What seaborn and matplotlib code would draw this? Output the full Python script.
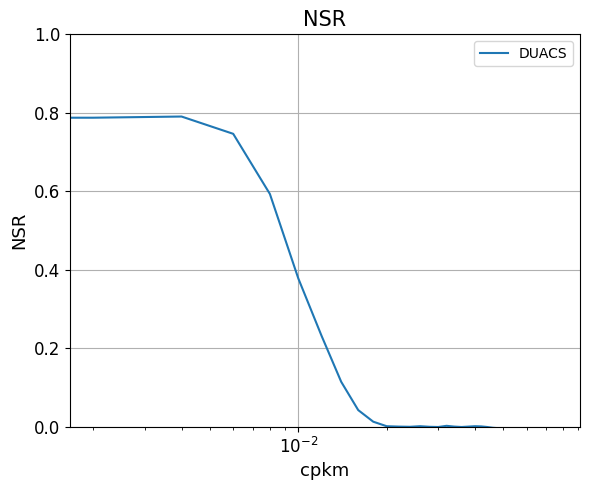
import numpy as np
import pandas as pd
import matplotlib
matplotlib.use("Agg")
import matplotlib.pyplot as plt
import seaborn as sns

# Data
freq_cpkm = [0.0, 0.002, 0.004, 0.006, 0.008, 0.010, 0.012, 0.014, 0.016, 0.018,
             0.020, 0.022, 0.024, 0.026, 0.028, 0.030, 0.032, 0.034, 0.036, 0.038,
             0.040, 0.042, 0.044, 0.046, 0.048, 0.050, 0.052, 0.054, 0.056, 0.058,
             0.060, 0.062, 0.064, 0.066, 0.068, 0.070, 0.072, 0.074, 0.076]
nsr_duacs = [0.786, 0.787, 0.790, 0.746, 0.593, 0.378, 0.232, 0.115, 0.043, 0.0135,
             0.002, 0.001, 0.0005, 0.002, 0.0005, 0.0, 0.003, 0.001, 0.0, 0.001,
             0.002, 0.0015, 0.0, -0.002, -0.003, -0.003, -0.004, -0.003, -0.004, -0.004,
             -0.003, -0.004, -0.004, -0.003, -0.004, -0.004, -0.003, -0.004, -0.004]
series_name = "DUACS"

df = pd.DataFrame({"cpkm": freq_cpkm, "NSR": nsr_duacs})

fig = plt.figure(figsize=(5.9, 4.9), dpi=100)
ax = fig.add_axes([70/590, 1 - 427/490, 510/590, 393/490])

sns.lineplot(data=df, x="cpkm", y="NSR", ax=ax, label=series_name,
             color="#1f77b4", linewidth=1.5, estimator=None, sort=True)
ax.set_xscale("log")
ax.relim()
ax.autoscale_view()
ax.set_ylim(0, 1)
ax.grid(True, which="major", color="#b0b0b0", linewidth=0.8)
ax.set_title("NSR", fontsize=15)
ax.set_xlabel("cpkm", fontsize=13)
ax.set_ylabel("NSR", fontsize=13)
ax.tick_params(axis="both", which="major", labelsize=12)
ax.legend(loc="upper right", fontsize=10)

fig.savefig("out.png", dpi=100)
